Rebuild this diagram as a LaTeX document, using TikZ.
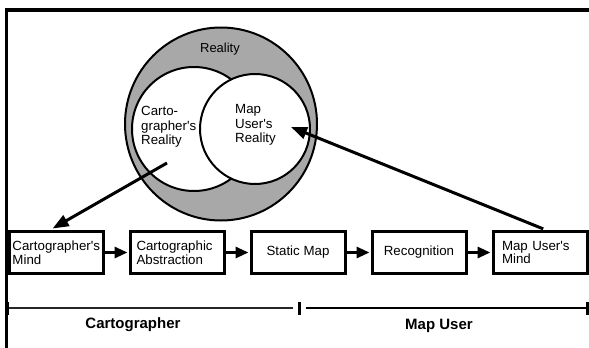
\documentclass[tikz,border=0pt]{standalone}
\usepackage{fontspec}
\setmainfont{Liberation Sans}[Ligatures=TeXOff]
\usetikzlibrary{arrows.meta}
\definecolor{ring}{RGB}{168,168,168}
\begin{document}
\begin{tikzpicture}[x=1pt,y=-1pt,
  box/.style={draw, line width=3pt, minimum width=94pt, minimum height=42pt,
    inner ysep=0pt, font=\fontsize{13.3}{13.5}\selectfont},
  conn/.style={line width=3pt, -{Triangle[length=13pt,width=11pt]}, shorten >=1pt},
  big/.style={line width=3pt, -{Triangle[length=16pt,width=12pt]}},
  circ/.style={line width=2pt},
  ctext/.style={font=\fontsize{13.3}{14.3}\selectfont, align=left, inner sep=0pt, anchor=west},
  lab/.style={font=\fontsize{15}{18}\selectfont\bfseries, inner sep=0pt},
  tick/.style={line width=3pt}]
\useasboundingbox (0,0) rectangle (589,348);
% frame
\draw[line width=3.5pt] (589,10) -- (6.5,10) -- (6.5,348);
% Venn of realities
\draw[circ, fill=ring] (221,124) ellipse [x radius=96, y radius=96.5];
\draw[circ, fill=white] (194,129) circle [radius=62];
\draw[circ, fill=white] (255,129) circle [radius=55];
\node[font=\fontsize{13}{14}\selectfont, inner sep=0pt] (real) at (220,49) {Reality};
\node[ctext] (crt) at (141,127) {Carto-\\grapher's\\Reality};
\node[ctext] (mur) at (235,125) {Map\\User's\\Reality};
% boxes
\node[box, align=left, inner xsep=3.5pt, text width=87pt] (b1) at (56,252.5) {Cartographer's\\Mind};
\node[box, align=left, inner xsep=6.5pt, text width=81pt] (b2) at (177,252.5) {Cartographic\\Abstraction};
\node[box] (b3) at (298,252.5) {Static Map};
\node[box] (b4) at (419,252.5) {Recognition};
\node[box, align=left, inner xsep=9pt, text width=76pt] (b5) at (540,252.5) {Map User's\\Mind};
\draw[conn] (b1) -- (b2);
\draw[conn] (b2) -- (b3);
\draw[conn] (b3) -- (b4);
\draw[conn] (b4) -- (b5);
% big arrows
\coordinate (la) at (167,163);
\coordinate (ra) at (291,127);
\draw[big, shorten >=3pt] (la) -- ([xshift=-6pt]b1.north);
\draw[big, shorten <=3pt] ([xshift=6pt]b5.north) -- (ra);
% timeline
\coordinate (tl) at (7,308);
\coordinate (tm) at (299,308);
\coordinate (tr) at (587,308);
\draw[line width=2pt, black!85] (tl) -- ([xshift=-6pt]tm);
\draw[line width=2.7pt] ([xshift=7pt]tm) -- (tr);
\draw[tick] ([yshift=-6.5pt]tl) -- ([yshift=6.5pt]tl);
\draw[tick] ([yshift=-6.5pt]tm) -- ([yshift=6.5pt]tm);
\draw[tick] ([yshift=-6.5pt]tr) -- ([yshift=6.5pt]tr);
\node[lab] (lc) at (133,325) {Cartographer};
\node[lab] (lu) at (439,326) {Map User};
\end{tikzpicture}
\end{document}
